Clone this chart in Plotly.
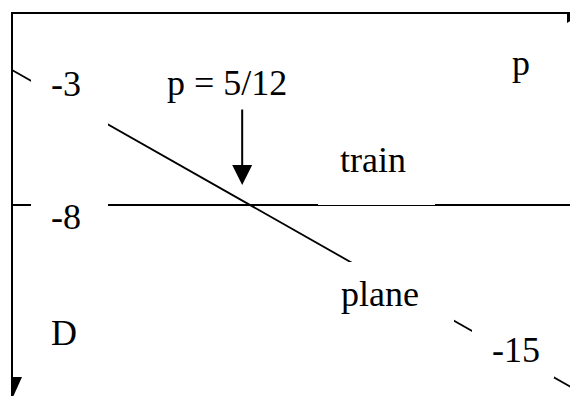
import plotly.graph_objects as go

# ---- data ----
p_values = [0.0, 1.0]            # probability p on the horizontal axis
train_payoff = [-8, -8]          # D's payoff for "train"
plane_payoff = [-3, -15]         # D's payoff for "plane"
p_star = 5 / 12                  # indifference point
arrow_p = 0.403                  # where the pointer arrow is drawn
arrow_from = -4.41
arrow_to = -7.26

labels = {
    "-3": (66, 84),
    "-8": (66, 217),
    "-15": (516, 350),
    "D": (64, 333),
    "p": (521, 63),
    "p = 5/12": (227, 83),
    "train": (373, 160),
    "plane": (380, 294),
}

OFF = 8                    # browser body margin
W, H = 578 - OFF, 396 - OFF
X0, XS = 12 - OFF, 571.2   # pixel of p=0, pixels per unit p
Y0, YS = 70 - OFF, 27      # pixel of D=-3, pixels per unit D


def px(x):
    return (x - OFF) / W


def py(y):
    return 1 - (y - OFF) / H


FONT = dict(family="Liberation Serif", size=36, color="black")

fig = go.Figure()
fig.add_trace(go.Scatter(x=p_values, y=train_payoff, mode="lines",
                         line=dict(color="black", width=2), hoverinfo="skip"))
fig.add_trace(go.Scatter(x=p_values, y=plane_payoff, mode="lines",
                         line=dict(color="black", width=1.8), hoverinfo="skip"))

shapes = []
# axes
shapes.append(dict(type="line", xref="paper", yref="paper", x0=px(12), x1=px(12),
                   y0=py(12), y1=py(397), line=dict(color="black", width=2)))
shapes.append(dict(type="line", xref="paper", yref="paper", x0=px(11), x1=px(579),
                   y0=py(13), y1=py(13), line=dict(color="black", width=2)))


def poly(pts):
    d = "M" + " L".join(f"{px(a):.5f},{py(b):.5f}" for a, b in pts) + " Z"
    return dict(type="path", xref="paper", yref="paper", path=d,
                fillcolor="black", line=dict(color="black", width=0))


shapes.append(poly([(567, 12), (579, 12), (579, 16), (567, 23)]))
shapes.append(poly([(11, 377), (22, 377), (13, 397), (11, 397)]))

# white text boxes that interrupt the lines
masks = [(31, 45, 108, 126), (31, 195, 108, 240), (318, 140, 435, 205),
         (333, 262, 454, 330), (472, 322, 554, 378)]
for x0, y0, x1, y1 in masks:
    shapes.append(dict(type="rect", xref="paper", yref="paper", layer="above",
                       x0=px(x0), x1=px(x1), y0=py(y1), y1=py(y0),
                       fillcolor="white", line=dict(width=0)))

annotations = []
for t, (x, y) in labels.items():
    annotations.append(dict(text=t, xref="paper", yref="paper", x=px(x), y=py(y),
                            xanchor="center", yanchor="middle", showarrow=False,
                            font=FONT, borderpad=0))
annotations.append(dict(text="", x=arrow_p, y=arrow_to, ax=arrow_p, ay=arrow_from,
                        xref="x", yref="y", axref="x", ayref="y", showarrow=True,
                        arrowhead=2, arrowsize=2, arrowwidth=2, arrowcolor="black",
                        standoff=0))

fig.update_layout(
    width=W, height=H, margin=dict(l=0, r=0, t=0, b=0),
    paper_bgcolor="white", plot_bgcolor="white", showlegend=False,
    xaxis=dict(range=[-X0 / XS, (W - X0) / XS], visible=False, fixedrange=True),
    yaxis=dict(range=[-3 - (H - Y0) / YS, -3 + Y0 / YS], visible=False, fixedrange=True),
    shapes=shapes, annotations=annotations,
)

fig.write_html("out.html")
